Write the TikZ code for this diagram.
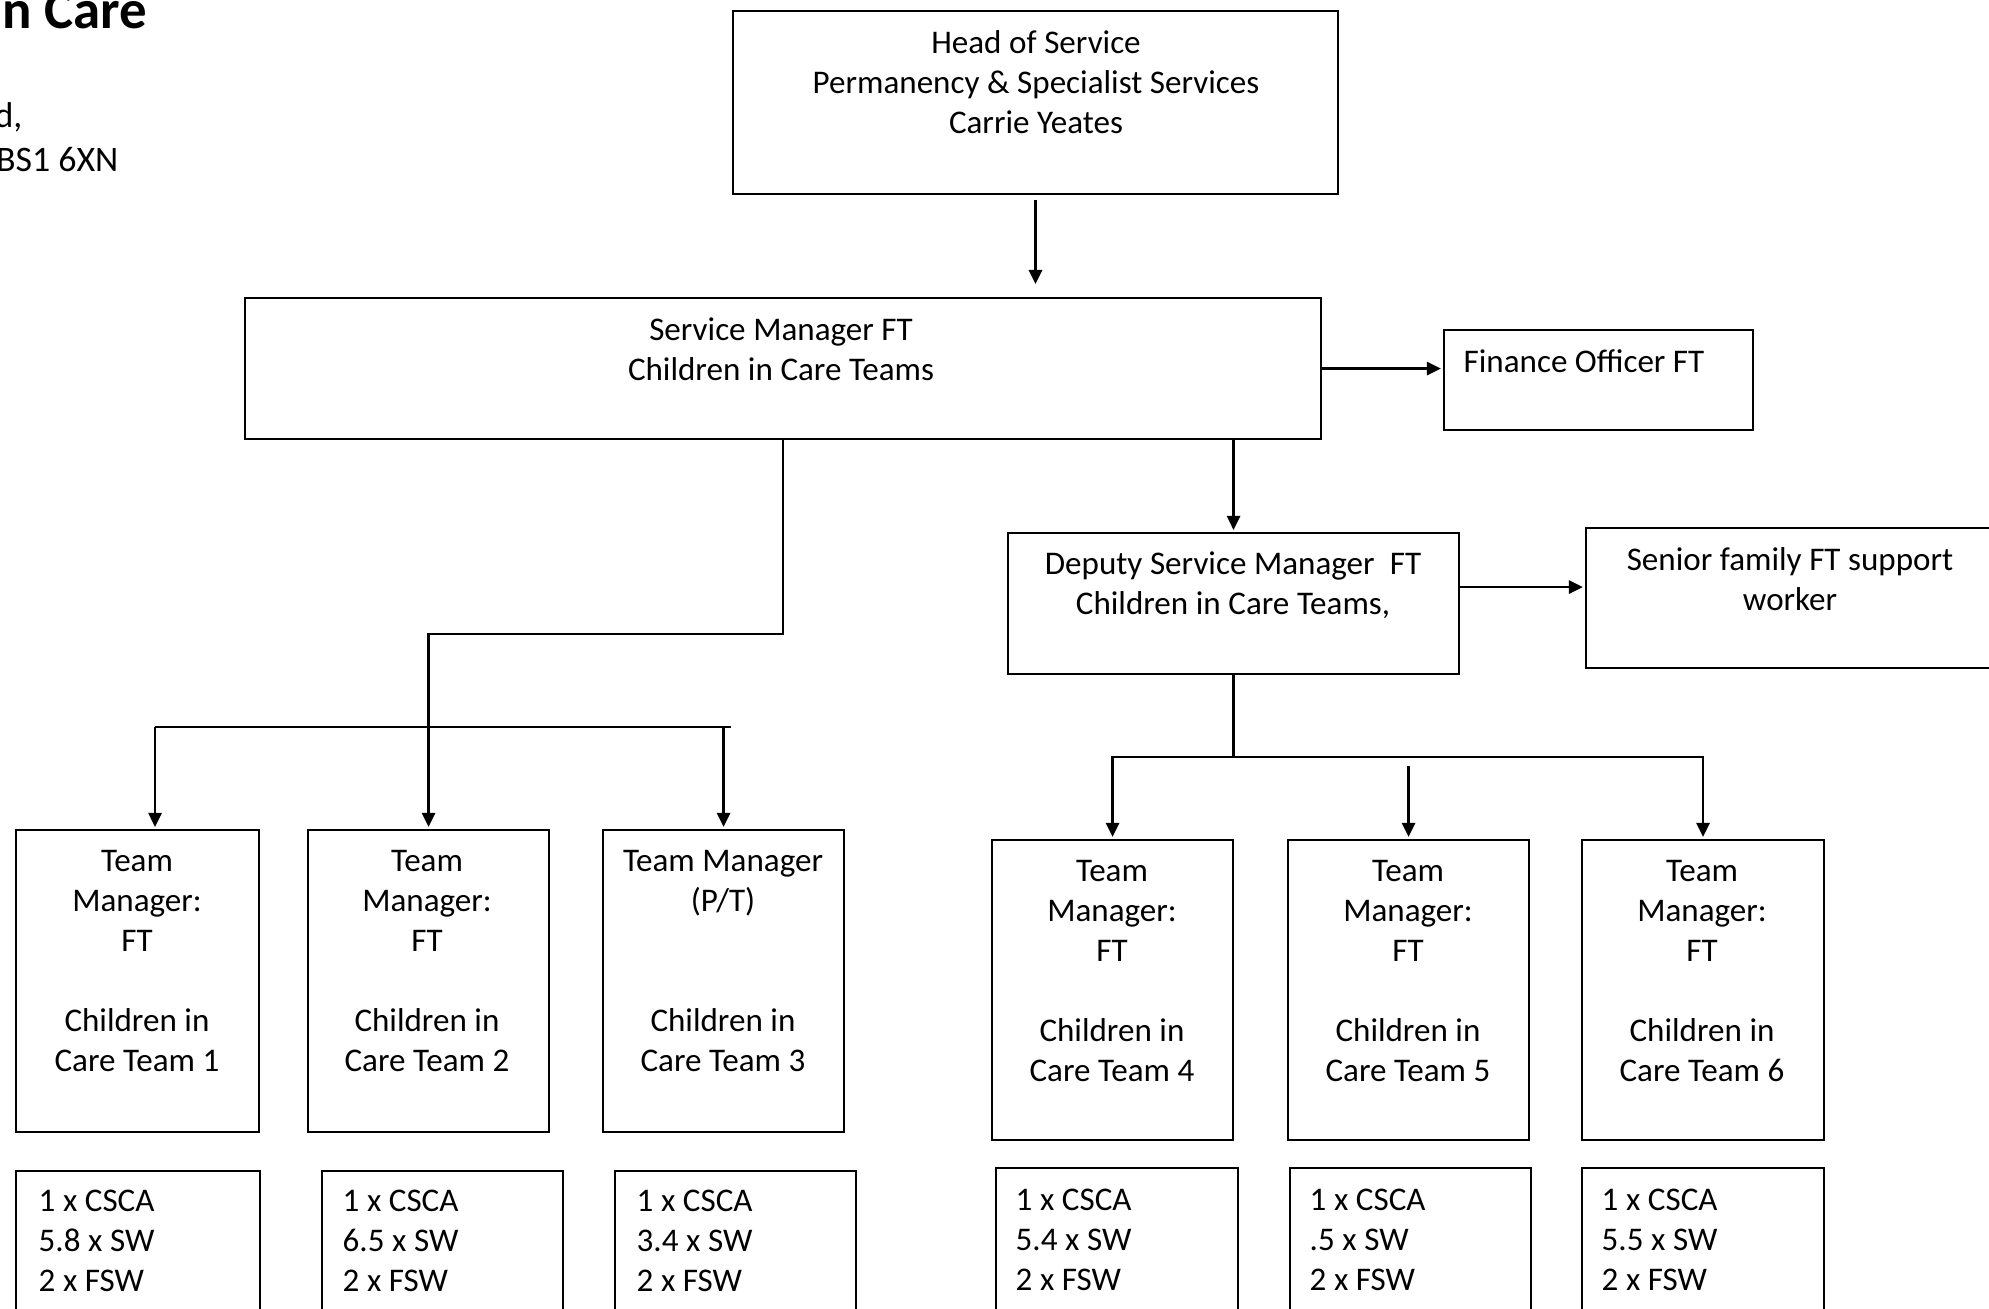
\documentclass[tikz,border=0pt]{standalone}
\usepackage{fontspec}
\setmainfont{Carlito}
\usetikzlibrary{arrows.meta,calc}

\begin{document}
\begin{tikzpicture}[x=0.01cm, y=-0.01cm,
  every node/.style={font=\fontsize{9.4}{11.4}\selectfont, inner sep=0pt},
  box/.style={draw, line width=0.55pt},
  lbl/.style={align=center, text width=#1, anchor=base, execute at begin node={\spaceskip=0.23em\relax}},
  staff/.style={align=left, text width=2cm, anchor=base west, execute at begin node={\spaceskip=0.23em\relax}},
  arr/.style={-{Triangle[length=4pt,width=3.8pt]}, line width=0.6pt, shorten >=0.6pt}]
  \useasboundingbox (0,0) rectangle (1989,1308);
  % cut-off heading on the left
  \node[font=\fontsize{15.6}{18}\selectfont\bfseries, anchor=base east] (title) at (148,28) {n Care};
  \node[font=\fontsize{10.2}{12.5}\selectfont, anchor=base east] (addr1) at (23,127) {d,};
  \node[font=\fontsize{10.2}{12.5}\selectfont, anchor=base east] (addr2) at (119,171) {BS1 6XN};
  % top boxes
  \node[box, minimum width=6.05cm, minimum height=1.83cm] (head) at (1035.5,102.5) {};
  \node[lbl=6cm] (headtxt) at (1036,53) {Head of Service\\Permanency \& Specialist Services\\Carrie Yeates};
  \node[box, minimum width=10.76cm, minimum height=1.41cm] (service) at (783,368.5) {};
  \node[lbl=6cm] (servicetxt) at (781,340) {Service Manager FT\\Children in Care Teams};
  \node[box, minimum width=3.09cm, minimum height=1cm] (finance) at (1598.5,380) {};
  \node[anchor=base west] (financetxt) at (1463,372) {Finance Officer FT};
  \node[box, minimum width=4.51cm, minimum height=1.41cm] (deputy) at (1233.5,603.5) {};
  \node[lbl=4.4cm] (deputytxt) at (1233,574) {Deputy Service Manager\ \ FT\\Children in Care Teams,};
  \node[box, minimum width=4.14cm, minimum height=1.4cm] (senior) at (1793,598) {};
  \node[lbl=4cm] (seniortxt) at (1790,570) {Senior family FT support\\worker};
  % team manager boxes
  \node[box, minimum width=2.43cm, minimum height=3.02cm] (team1) at (137.5,981) {};
  \node[lbl=2.3cm] (team1txt) at (137,871) {Team\\Manager:\\FT\\[0.4cm]Children in\\Care Team 1};
  \node[box, minimum width=2.41cm, minimum height=3.02cm] (team2) at (428.5,981) {};
  \node[lbl=2.3cm] (team2txt) at (427,871) {Team\\Manager:\\FT\\[0.4cm]Children in\\Care Team 2};
  \node[box, minimum width=2.41cm, minimum height=3.02cm] (team3) at (723.5,981) {};
  \node[lbl=2.3cm] (team3txt) at (723,871) {Team Manager\\(P/T)\\[0.8cm]Children in\\Care Team 3};
  \node[box, minimum width=2.41cm, minimum height=3cm] (team4) at (1112.5,990) {};
  \node[lbl=2.3cm] (team4txt) at (1112,881) {Team\\Manager:\\FT\\[0.4cm]Children in\\Care Team 4};
  \node[box, minimum width=2.41cm, minimum height=3cm] (team5) at (1408.5,990) {};
  \node[lbl=2.3cm] (team5txt) at (1408,881) {Team\\Manager:\\FT\\[0.4cm]Children in\\Care Team 5};
  \node[box, minimum width=2.42cm, minimum height=3cm] (team6) at (1703,990) {};
  \node[lbl=2.3cm] (team6txt) at (1702,881) {Team\\Manager:\\FT\\[0.4cm]Children in\\Care Team 6};
  % staff boxes
  \node[box, minimum width=2.44cm, minimum height=1.69cm] (staff1) at (138,1255.5) {};
  \node[staff] (staff1txt) at (38,1211) {1 x CSCA\\5.8 x SW\\2 x FSW};
  \node[box, minimum width=2.41cm, minimum height=1.69cm] (staff2) at (442.5,1255.5) {};
  \node[staff] (staff2txt) at (342,1211) {1 x CSCA\\6.5 x SW\\2 x FSW};
  \node[box, minimum width=2.41cm, minimum height=1.69cm] (staff3) at (735.5,1255.5) {};
  \node[staff] (staff3txt) at (636,1211) {1 x CSCA\\3.4 x SW\\2 x FSW};
  \node[box, minimum width=2.42cm, minimum height=1.72cm] (staff4) at (1117,1254) {};
  \node[staff] (staff4txt) at (1015,1210) {1 x CSCA\\5.4 x SW\\2 x FSW};
  \node[box, minimum width=2.41cm, minimum height=1.72cm] (staff5) at (1410.5,1254) {};
  \node[staff] (staff5txt) at (1309,1210) {1 x CSCA\\.5 x SW\\2 x FSW};
  \node[box, minimum width=2.42cm, minimum height=1.72cm] (staff6) at (1703,1254) {};
  \node[staff] (staff6txt) at (1601,1210) {1 x CSCA\\5.5 x SW\\2 x FSW};
  % connectors
  \draw[arr, shorten <=1.4pt, shorten >=3.7pt] (head.south) -- (head.south |- service.north);
  \draw[arr] (service.east) -- (service.east -| finance.west);
  \draw[arr] (deputy.north |- service.south) -- (deputy.north);
  \draw[arr] ($(deputy.east)+(0,-16.5)$) -- ($(deputy.east -| senior.west)+(0,-16.5)$);
  \draw[arr] (service.south) -- ++(0,194) -| (team2.north);
  \coordinate (lbarw) at (155,727);
  \coordinate (lbare) at (731,727);
  \draw[line width=0.6pt] (lbarw) -- (lbare);
  \draw[arr] (lbarw) -- (lbarw |- team1.north);
  \draw[arr] (lbare -| team3.north) -- (team3.north);
  \draw[line width=0.6pt] (deputy.south) -- ++(0,82) coordinate (rbar);
  \draw[arr] (rbar) -| (team4.north);
  \draw[arr] (rbar) -| (team6.north);
  \draw[arr, shorten <=2.5pt] (rbar -| team5.north) -- (team5.north);
\end{tikzpicture}
\end{document}
